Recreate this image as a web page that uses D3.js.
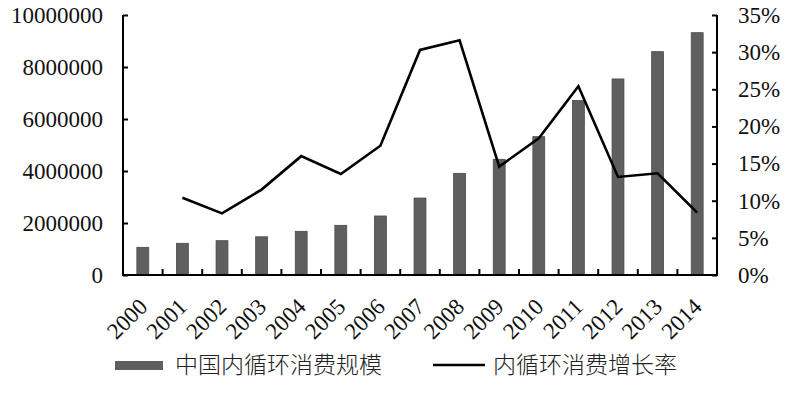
<!DOCTYPE html>
<html>
<head>
<meta charset="utf-8">
<script src="https://cdn.jsdelivr.net/npm/d3@7"></script>
<style>
  html, body { margin: 0; padding: 0; background: #fff; }
  svg { display: block; }
</style>
</head>
<body>
<svg id="chart" width="789" height="393"></svg>
<script>
const years = ["2000","2001","2002","2003","2004","2005","2006","2007","2008","2009","2010","2011","2012","2013","2014"];
const scaleValues = [1065000,1220000,1320000,1470000,1680000,1910000,2270000,2960000,3910000,4450000,5320000,6710000,7540000,8590000,9320000];
const growthRates = [null,10.4,8.3,11.5,16.0,13.6,17.4,30.3,31.6,14.6,18.4,25.4,13.2,13.7,8.4];
const leftTicks = [0,2000000,4000000,6000000,8000000,10000000];
const rightTicks = [0,5,10,15,20,25,30,35];
const legendLabels = ["中国内循环消费规模","内循环消费增长率"];

(function () {
const svg = d3.select("#chart");
const pLeft = 123, pRight = 717, pTop = 15, pBottom = 275;
const serif = "'Liberation Serif','Times New Roman',serif";
const cjk = "'Noto Sans CJK SC','Noto Sans',sans-serif";

const x = d3.scaleBand().domain(years).range([pLeft, pRight]).padding(0);
const yL = d3.scaleLinear().domain([0, 10000000]).range([pBottom, pTop]);
const yR = d3.scaleLinear().domain([0, 35]).range([pBottom, pTop]);
const barW = x.bandwidth() * 0.3;

// bars
svg.append("g").selectAll("rect").data(years).join("rect")
  .attr("x", (d) => x(d) + x.bandwidth()/2 - barW/2)
  .attr("y", (d, i) => yL(scaleValues[i]))
  .attr("width", barW)
  .attr("height", (d, i) => pBottom - yL(scaleValues[i]))
  .attr("fill", "#5f5f5f")
  .attr("stroke", "#4a4a4a")
  .attr("stroke-width", 0.8);

// line
const pts = years.map((d, i) => ({x: x(d) + x.bandwidth()/2, v: growthRates[i]})).filter(p => p.v !== null);
svg.append("path")
  .attr("d", d3.line().x(p => p.x).y(p => yR(p.v))(pts))
  .attr("fill", "none")
  .attr("stroke", "#000")
  .attr("stroke-width", 2.6)
  .attr("stroke-linejoin", "miter");

// left axis
const axL = svg.append("g").attr("transform", `translate(${pLeft},0)`)
  .call(d3.axisLeft(yL).tickValues(leftTicks).tickSize(-5).tickPadding(20).tickFormat(d3.format("d")));
axL.select(".domain").attr("d", `M0,${pTop}V${pBottom}`).attr("stroke", "#000").attr("stroke-width", 2);
axL.selectAll(".tick line").attr("stroke", "#000").attr("stroke-width", 2);
axL.selectAll(".tick text").attr("font-family", serif).attr("font-size", 23).attr("fill", "#111");

// right axis
const axR = svg.append("g").attr("transform", `translate(${pRight},0)`)
  .call(d3.axisRight(yR).tickValues(rightTicks).tickSize(-5).tickPadding(21).tickFormat(d => d + "%"));
axR.select(".domain").attr("d", `M0,${pTop}V${pBottom}`).attr("stroke", "#000").attr("stroke-width", 2);
axR.selectAll(".tick line").attr("stroke", "#000").attr("stroke-width", 2);
axR.selectAll(".tick text").attr("font-family", serif).attr("font-size", 23).attr("fill", "#111");

// bottom axis line + boundary ticks
svg.append("line").attr("x1", pLeft - 1).attr("x2", pRight + 1).attr("y1", pBottom).attr("y2", pBottom)
  .attr("stroke", "#000").attr("stroke-width", 2);
svg.append("g").selectAll("line").data(years.slice(1)).join("line")
  .attr("x1", d => x(d)).attr("x2", d => x(d))
  .attr("y1", pBottom).attr("y2", pBottom - 6)
  .attr("stroke", "#000").attr("stroke-width", 2);

// x labels
svg.append("g").selectAll("text").data(years).join("text")
  .attr("transform", d => `translate(${x(d) + x.bandwidth()/2 + 6},${pBottom + 33}) rotate(-45)`)
  .attr("text-anchor", "end")
  .attr("font-family", serif).attr("font-size", 23).attr("fill", "#111")
  .text(d => d);

// legend
const lg = svg.append("g");
lg.append("rect").attr("x", 115).attr("y", 361).attr("width", 48).attr("height", 9).attr("fill", "#5f5f5f");
lg.append("text").attr("x", 175).attr("y", 373).attr("font-family", cjk).attr("font-weight", 300).attr("font-size", 23).attr("fill", "#222").text(legendLabels[0]);
lg.append("line").attr("x1", 433).attr("x2", 485).attr("y1", 365).attr("y2", 365).attr("stroke", "#000").attr("stroke-width", 2.6);
lg.append("text").attr("x", 493).attr("y", 373).attr("font-family", cjk).attr("font-weight", 300).attr("font-size", 23).attr("fill", "#222").text(legendLabels[1]);
})();
</script>
</body>
</html>
